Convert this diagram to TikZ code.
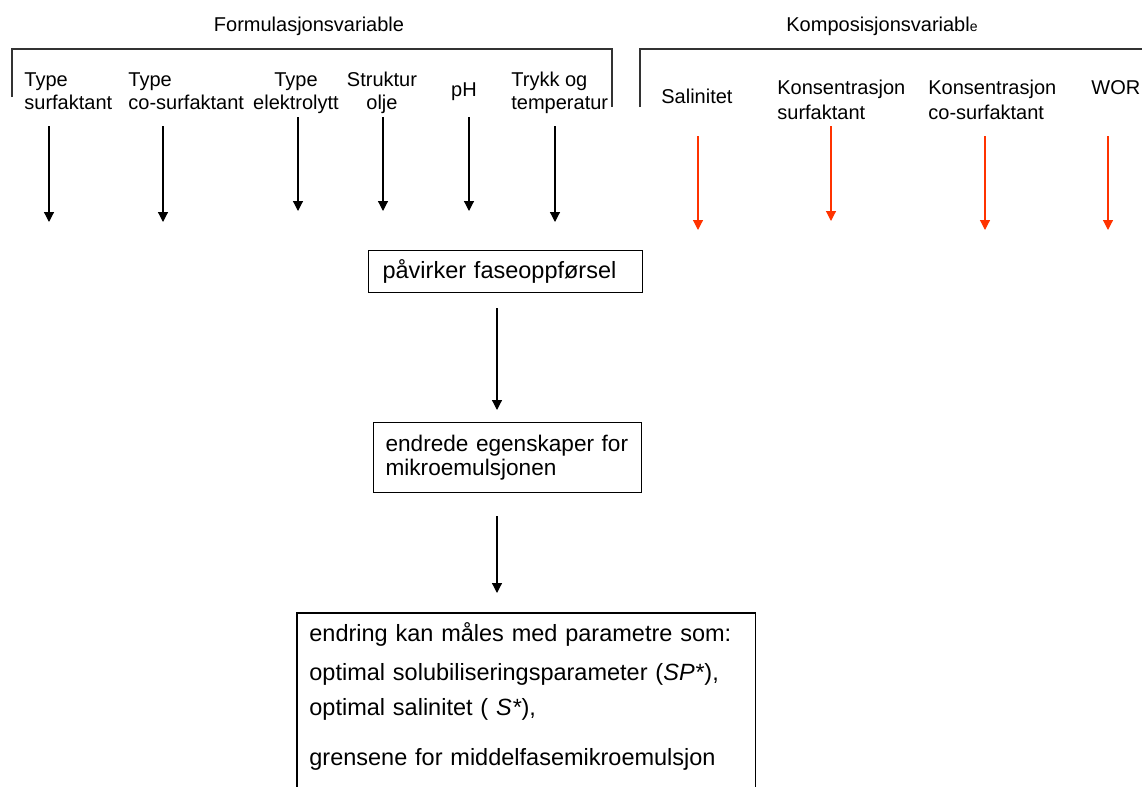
\documentclass[tikz,border=0pt]{standalone}
\usepackage{fontspec}
\setmainfont{Liberation Sans}
\usetikzlibrary{arrows.meta}
\definecolor{pilrod}{RGB}{255,51,0}
\tikzset{
  lab/.style={inner sep=0pt, font=\fontsize{10}{11.5}\selectfont},
  labr/.style={inner sep=0pt, font=\fontsize{10}{12.5}\selectfont},
  ramme/.style={line width=0.6pt, black!80},
  boks/.style={draw, line width=0.6pt, inner xsep=7pt, align=left, font=\fontsize{11.75}{12.5}\selectfont},
  pil/.style={line width=0.6pt, -{Triangle[width=5pt,length=5pt]}},
}

\begin{document}
\begin{tikzpicture}[x=0.5pt,y=-0.5pt]
\clip (0,0) rectangle (1142,787);
\node[lab, anchor=base] (tF) at (309,32) {Formulasjonsvariable};
\node[lab, anchor=base] (tK) at (882,32) {Komposisjonsvariabl{\fontsize{7}{8}\selectfont e}};
\draw[ramme] (12,97) -- (12,49) -| (612,107);
\draw[ramme] (640,107) |- (1142,49);

\node[lab, anchor=north west, align=left] (tsurf) at (24,72) {Type\\surfaktant};
\node[lab, anchor=north west, align=left] (tcosurf) at (128,72) {Type\\co-surfaktant};
\node[lab, anchor=north, align=center] (telek) at (296,72) {Type\\elektrolytt};
\node[lab, anchor=north, align=center] (tolje) at (382,72) {Struktur\\olje};
\node[lab, anchor=base] (tph) at (464,97) {pH};
\node[lab, anchor=north west, align=left] (ttrykk) at (511,72) {Trykk og\\temperatur};

\node[labr, anchor=base west] (tsal) at (661,104) {Salinitet};
\node[labr, anchor=north west, align=left] (tkonsurf) at (777,80) {Konsentrasjon\\surfaktant};
\node[labr, anchor=north west, align=left] (tkoncosurf) at (928,80) {Konsentrasjon\\co-surfaktant};
\node[labr, anchor=base west] (twor) at (1091,94) {WOR};

\foreach \n/\xa/\ya/\yb in {1/49/126/222, 2/163/126/222, 3/298/117/211, 4/383/117/211, 5/469/117/211, 6/555/126/222}
{
  \coordinate (fa\n) at (\xa,\ya);
  \coordinate (fb\n) at (\xa,\yb);
  \draw[pil] (fa\n) -- (fb\n);
}
\foreach \n/\xa/\ya/\yb in {1/698/136/230, 2/831/126/221, 3/985/136/230, 4/1108/136/230}
{
  \coordinate (ka\n) at (\xa,\ya);
  \coordinate (kb\n) at (\xa,\yb);
  \draw[pil, pilrod] (ka\n) -- (kb\n);
}

\node[boks, anchor=north west, text width=123pt, minimum height=21pt] (bA) at (368,250) {påvirker faseoppførsel};
\node[boks, anchor=north west, text width=122pt, inner xsep=6pt, minimum height=35pt, font=\fontsize{11.3}{11.8}\selectfont] (bB) at (373,422) {endrede egenskaper for\\mikroemulsjonen};
\node[anchor=north west, text width=217pt, inner xsep=6pt, inner ysep=4.5pt, align=left, font=\fontsize{11.75}{14}\selectfont] (bC) at (297,613)
  {endring kan måles med parametre som:\\[5.5pt]
   optimal solubiliseringsparameter (\textit{SP*}),\\[3.5pt]
   optimal salinitet ( \textit{S*}),\\[11pt]
   grensene for middelfasemikroemulsjon};
\coordinate (bunn) at (0,800);
\draw[line width=0.6pt] (bC.north west |- bunn) -- (bC.north west) -- (bC.north east) -- (bC.north east |- bunn);

\coordinate (mx) at (497,0);
\draw[pil, shorten <=7.5pt, shorten >=6pt] (bA.south -| mx) -- (bB.north -| mx);
\draw[pil, shorten <=11.5pt, shorten >=10pt] (bB.south -| mx) -- (bC.north -| mx);
\end{tikzpicture}
\end{document}
